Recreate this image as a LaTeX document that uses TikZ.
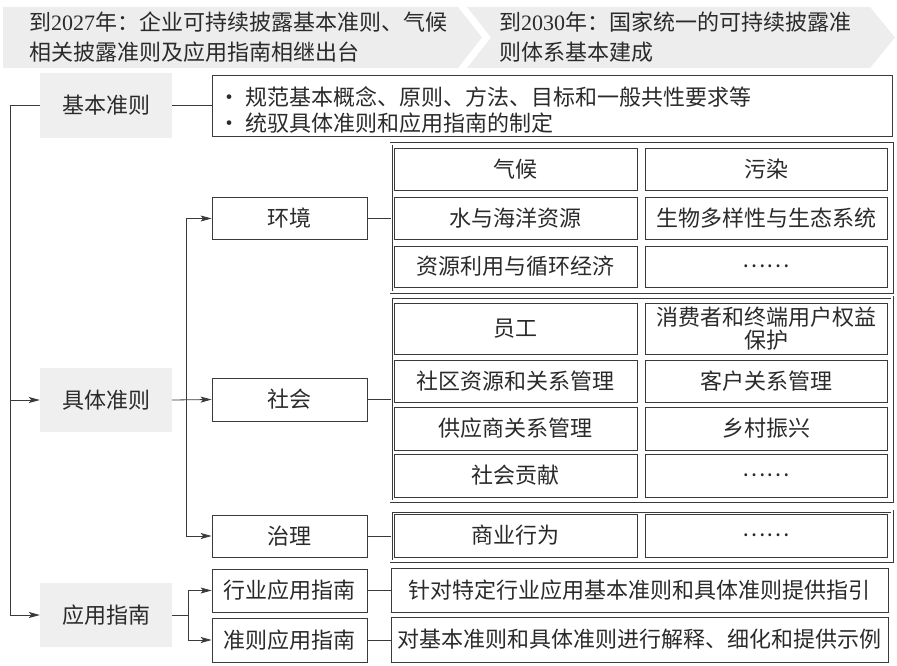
\documentclass[tikz,border=0pt]{standalone}
\usepackage{fontspec}
\setmainfont{Noto Sans CJK SC}
\newfontfamily\lat{Liberation Serif}
\usetikzlibrary{arrows.meta}
\definecolor{ink}{HTML}{2A2A2A}
\definecolor{rule}{HTML}{3A3A3A}
\definecolor{bandgray}{HTML}{EDEDED}
\definecolor{boxgray}{HTML}{EFEFEF}
\tikzset{
  txt/.style={font=\fontsize{22}{23}\selectfont, text=ink, inner sep=0pt},
  cell/.style={txt, draw=rule, line width=0.8pt, align=center},
  lvl/.style={cell, minimum width=155pt},
  graybox/.style={txt, fill=boxgray, minimum width=132pt, minimum height=64pt},
  grpframe/.style={draw=rule, line width=0.7pt, double=white, double distance=1.6pt, inner sep=0pt, minimum width=501pt, shape=rectangle},
  conn/.style={draw=rule, line width=0.8pt},
  arr/.style={conn, -{Stealth[length=11pt,width=6pt,inset=2.5pt]}},
  lc/.style={cell, minimum width=243pt},
  rc/.style={cell, minimum width=242pt},
}
\begin{document}
\begin{tikzpicture}[x=1pt,y=-1pt]
\useasboundingbox (0,0) rectangle (897,666);
% banner
\fill[bandgray] (3,7) -- (458,7) -- (482,37.5) -- (458,68) -- (3,68) -- cycle;
\fill[bandgray] (467,7) -- (870,7) -- (895,37.5) -- (870,68) -- (467,68) -- (491,37.5) -- cycle;
\node[txt, anchor=west, align=left, font=\fontsize{22}{30}\selectfont] (b1) at (29,37.5)
  {到{\lat 2027}年：企业可持续披露基本准则、气候\\相关披露准则及应用指南相继出台};
\node[txt, anchor=west, align=left, font=\fontsize{22}{30}\selectfont] (b2) at (499,37.5)
  {到{\lat 2030}年：国家统一的可持续披露准\\则体系基本建成};
% left level
\node[graybox, minimum height=65pt] (jb) at (106,105.5) {基本准则};
\node[graybox] (jt) at (106,400) {具体准则};
\node[graybox] (yy) at (106,615) {应用指南};
% description of basic standard
\node[cell, minimum width=680pt, minimum height=61pt] (jbd) at (552,105.5) {};
\node[txt, anchor=west, align=left, font=\fontsize{22}{26}\selectfont] (jbt) at (245,110)
  {\llap{·\hspace{5pt}}规范基本概念、原则、方法、目标和一般共性要求等\\\llap{·\hspace{5pt}}统驭具体准则和应用指南的制定};
% second level
\node[lvl, minimum height=42pt] (hj) at (289.5,218.5) {环境};
\node[lvl, minimum height=43pt] (sh) at (289.5,399.5) {社会};
\node[lvl, minimum height=42pt] (zl) at (289.5,536) {治理};
\node[lvl, minimum height=43pt] (hy) at (289.5,590.5) {行业应用指南};
\node[lvl, minimum height=44pt] (zz) at (289.5,640) {准则应用指南};
% group frames
\node[grpframe, minimum height=148pt] (envg) at (641.5,218) {};
\node[grpframe, minimum height=204pt] (socg) at (641.5,399) {};
\node[grpframe, minimum height=50pt] (govg) at (641.5,536) {};
% environment cells
\node[lc, minimum height=42pt] (e1) at (515.5,169) {气候};
\node[rc, minimum height=42pt] (e2) at (766,169) {污染};
\node[lc, minimum height=42pt] (e3) at (515.5,218) {水与海洋资源};
\node[rc, minimum height=42pt] (e4) at (766,218) {生物多样性与生态系统};
\node[lc, minimum height=41pt] (e5) at (515.5,266.5) {资源利用与循环经济};
\node[rc, minimum height=41pt] (e6) at (766,266.5) {……};
% social cells
\node[lc, minimum height=51pt] (s1) at (515.5,328.5) {员工};
\node[rc, minimum height=51pt] (s2) at (766,328.5) {消费者和终端用户权益\\保护};
\node[lc, minimum height=42pt] (s3) at (515.5,381) {社区资源和关系管理};
\node[rc, minimum height=42pt] (s4) at (766,381) {客户关系管理};
\node[lc, minimum height=43pt] (s5) at (515.5,428.5) {供应商关系管理};
\node[rc, minimum height=43pt] (s6) at (766,428.5) {乡村振兴};
\node[lc, minimum height=43pt] (s7) at (515.5,475.5) {社会贡献};
\node[rc, minimum height=43pt] (s8) at (766,475.5) {……};
% governance cells
\node[lc, minimum height=43pt] (g1) at (515.5,535.5) {商业行为};
\node[rc, minimum height=43pt] (g2) at (766,535.5) {……};
% guide descriptions
\node[cell, minimum width=497pt, minimum height=44pt] (d1) at (639.5,590) {针对特定行业应用基本准则和具体准则提供指引};
\node[cell, minimum width=497pt, minimum height=45pt] (d2) at (639.5,639.5) {对基本准则和具体准则进行解释、细化和提供示例};
% connectors
\coordinate (sp) at (10,105.5);
\coordinate (br) at (186,218.5);
\coordinate (br2) at (188,615);
\draw[conn] (jb.west) -- (sp);
\draw[arr] (sp) |- (jt.west);
\draw[arr] (sp) |- (yy.west);
\draw[conn] (jb.east) -- (jb.east -| jbd.west);
\draw[arr] (jt.east) -- (sh.west);
\draw[arr] (br) -- (hj.west);
\draw[arr] (br) |- (zl.west);
\draw[conn] (yy.east) -- (br2);
\draw[arr] (br2) |- (hy.west);
\draw[arr] (br2) |- (zz.west);
\draw[conn] (hj.east) -- (hj.east -| envg.west);
\draw[conn] (sh.east) -- (sh.east -| socg.west);
\draw[conn] (zl.east) -- (zl.east -| govg.west);
\draw[conn] (hy.east) -- (hy.east -| d1.west);
\draw[conn] (zz.east) -- (zz.east -| d2.west);
\end{tikzpicture}
\end{document}
